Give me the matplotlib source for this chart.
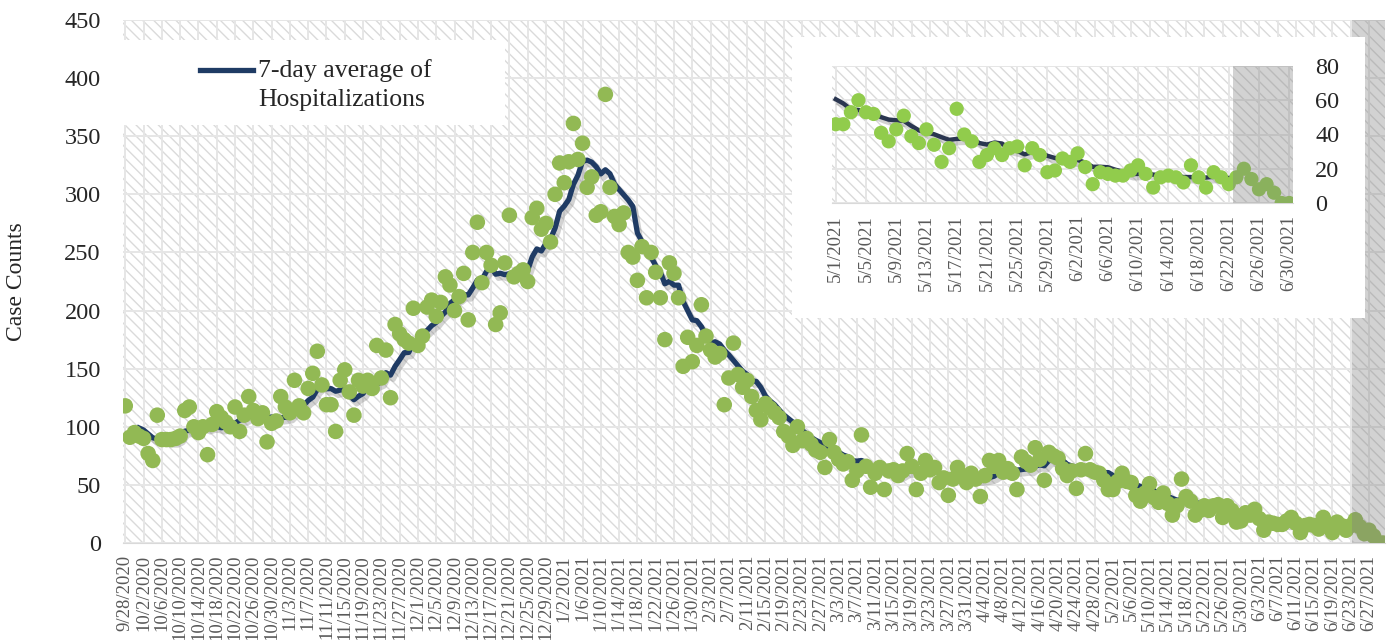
import numpy as np
import pandas as pd
import matplotlib
matplotlib.use("Agg")
import matplotlib.pyplot as plt
import matplotlib.patheffects as pe
from matplotlib.patches import Rectangle
from matplotlib.lines import Line2D

plt.rcParams['font.family'] = ['Liberation Serif', 'DejaVu Serif']
plt.rcParams['hatch.linewidth'] = 1.0
plt.rcParams['hatch.color'] = '#dadada'

# datos diarios de hospitalizaciones, 9/28/2020 - 6/30/2021
start_date = "2020-09-28"
end_date = "2021-06-30"
daily_cases = [
    118, 91, 95, 92, 90, 77, 71, 110, 89, 89, 89, 90, 92, 114, 117, 100, 95, 100, 76, 102,
    113, 108, 104, 100, 117, 96, 110, 126, 114, 107, 112, 87, 103, 105, 126, 117, 112, 140, 118, 112,
    133, 146, 165, 136, 119, 119, 96, 140, 149, 130, 110, 140, 135, 140, 133, 170, 142, 166, 125, 188,
    180, 175, 172, 202, 170, 178, 203, 209, 195, 207, 229, 222, 200, 212, 232, 192, 250, 276, 224, 250,
    239, 188, 198, 241, 282, 229, 232, 235, 225, 280, 288, 270, 275, 259, 300, 327, 310, 328, 361, 330,
    344, 306, 315, 282, 285, 386, 306, 281, 274, 284, 250, 246, 226, 255, 211, 250, 233, 211, 175, 241,
    232, 211, 152, 177, 156, 170, 205, 178, 166, 160, 163, 119, 142, 172, 145, 134, 140, 126, 114, 106,
    120, 116, 112, 108, 96, 92, 84, 100, 88, 90, 85, 80, 78, 65, 89, 78, 72, 68, 70, 54,
    62, 93, 66, 48, 60, 65, 46, 62, 63, 58, 62, 77, 66, 46, 60, 71, 63, 65, 52, 56,
    41, 55, 65, 58, 52, 60, 55, 40, 58, 71, 66, 71, 61, 64, 60, 46, 74, 70, 67, 82,
    72, 54, 78, 75, 73, 64, 58, 62, 47, 63, 77, 63, 61, 60, 54,
    46, 46, 53, 60, 53, 52, 41, 36, 43, 51, 39, 35, 43, 34, 24, 32, 55, 40, 36, 24,
    28, 32, 28, 32, 33, 22, 32, 28, 18, 19, 26, 24, 29, 21, 11, 18, 17, 16, 16, 19,
    22, 17, 9, 15, 16, 15, 12, 22, 15, 9, 18, 15, 11, 15, 20, 14, 8, 11, 6, 0, 0,
]
avg_last_date = "2021-06-23"   # la linea del promedio termina aqui
shade_date = "2021-06-23"      # zona gris (datos incompletos)
inset_start = "2021-05-01"

main_yticks = [0, 50, 100, 150, 200, 250, 300, 350, 400, 450]
inset_yticks = [0, 20, 40, 60, 80]

dates = pd.date_range(start_date, end_date)
serie = pd.Series(daily_cases, index=dates, dtype=float)
prom = serie.rolling(7, min_periods=4).mean()
prom[prom.index > avg_last_date] = np.nan

x = np.arange(len(dates))
shade_x = int(np.where(dates == shade_date)[0][0]) + 0.3


def fondo_rayado(ax):
    ax.set_facecolor('white')
    ax.add_patch(Rectangle((0, 0), 1, 1, transform=ax.transAxes, facecolor='white',
                           edgecolor='#dadada', hatch='\\\\\\', lw=0, zorder=0))
    ax.set_axisbelow(True)
    ax.grid(True, color='#e6e6e6', lw=1.4, zorder=0.5)
    for s in ['top', 'right', 'left']:
        ax.spines[s].set_visible(False)
    ax.spines['bottom'].set_color('#d9d9d9')
    ax.tick_params(length=0)


def etiqueta(d):
    return f"{d.month}/{d.day}/{d.year}"


fig = plt.figure(figsize=(13.98, 6.4), dpi=100)

# grafico principal
ax = fig.add_axes([123 / 1398, 97 / 640, 1262 / 1398, 523 / 640])
fondo_rayado(ax)
sombra = [pe.SimpleLineShadow(offset=(2, -3), shadow_color='#808080', alpha=0.35), pe.Normal()]
ax.plot(x, prom.values, color='#1f3b64', lw=3.8, zorder=2, path_effects=sombra)
ax.scatter(x, serie.values, s=125, color='#92b954', edgecolors='none', zorder=3)
ax.axvspan(shade_x, len(x) - 0.5, color='#7f7f7f', alpha=0.35, lw=0, zorder=4)

ax.set_xlim(-0.5, len(x) - 0.5)
ax.set_ylim(0, 450)
ax.set_yticks(main_yticks)
ax.set_xticks(x[::4])
ax.set_xticklabels([etiqueta(d) for d in dates[::4]], rotation=90)
ax.tick_params(axis='x', labelsize=13.5, labelcolor='#595959', pad=8.5)
ax.tick_params(axis='y', labelsize=17.5, labelcolor='#262626', pad=16)
ax.set_ylabel("Case Counts", fontsize=17, color='#262626')
ax.yaxis.set_label_coords(-0.076, 0.5)

# leyenda
ax.add_patch(Rectangle((0, 0.799), 0.303, 0.163, transform=ax.transAxes,
                       facecolor='white', edgecolor='none', zorder=5))
ax.add_line(Line2D([0.061, 0.103], [0.904, 0.904], transform=ax.transAxes,
                   color='#1f3b64', lw=3.8, zorder=6))
ax.text(0.107, 0.891, "7-day average of", transform=ax.transAxes, fontsize=18.5,
        color='#262626', va='baseline', ha='left', zorder=6)
ax.text(0.107, 0.8356, "Hospitalizations", transform=ax.transAxes, fontsize=18.5,
        color='#262626', va='baseline', ha='left', zorder=6)

# recuadro blanco del inset
fig.add_artist(Rectangle((792 / 1398, 322 / 640), 573 / 1398, 281 / 640,
                         transform=fig.transFigure, facecolor='white',
                         edgecolor='none', zorder=2))

ins = fig.add_axes([832 / 1398, 437 / 640, 461 / 1398, 137 / 640])
ins.set_zorder(3)
fondo_rayado(ins)
mask = dates >= inset_start
xi = np.arange(mask.sum())
ins_dates = dates[mask]
ins.plot(xi, prom.values[mask], color='#2a3650', lw=3.2, zorder=2, path_effects=sombra)
ins.scatter(xi, serie.values[mask], s=105, color='#91cc4c', edgecolors='none', zorder=3)
ins_shade = int(np.where(ins_dates == shade_date)[0][0]) - 0.5
ins.axvspan(ins_shade, len(xi) - 0.5, color='#7f7f7f', alpha=0.35, lw=0, zorder=4)
ins.set_xlim(-0.5, len(xi) - 0.5)
ins.set_ylim(0, 80)
ins.set_yticks(inset_yticks)
ins.yaxis.tick_right()
ins.set_xticks(xi[::4])
ins.set_xticklabels([etiqueta(d) for d in ins_dates[::4]], rotation=90)
ins.tick_params(axis='x', labelsize=13.5, labelcolor='#595959', pad=8.5)
ins.tick_params(axis='y', labelsize=17.5, labelcolor='#262626', pad=16)

fig.savefig("out.png", dpi=100)
